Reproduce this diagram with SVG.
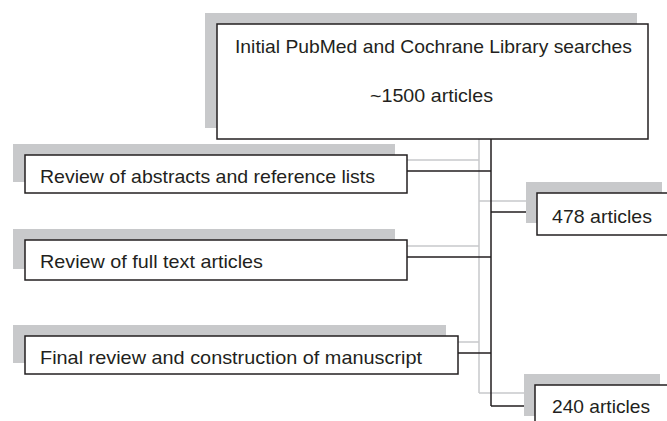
<svg xmlns="http://www.w3.org/2000/svg" width="667" height="421" viewBox="0 0 667 421">
<style>
.sh{fill:#c8c9cb;stroke:none}
.bx{fill:#fff;stroke:#231f20;stroke-width:1.5}
.t{font-family:"Liberation Sans",Arial,sans-serif;font-size:18.5px;fill:#231f20}
.dk{stroke:#231f20;stroke-width:1.5;fill:none}
.gr{stroke:#c8c9cb;stroke-width:1.5;fill:none}
</style>
<rect width="667" height="421" fill="#fff"/>
<g id="connectors">
<path class="gr" d="M479 128V393M395 160H479M395 246H479M446 342H479M479 201H526M479 393H524"/>
<path class="dk" d="M491 139V406M407 171H491M407 257H491M458 353H491M491 212H537M491 406H535"/>
</g>
<g id="n-initial">
<rect class="sh" x="205" y="13" width="432" height="115"/>
<rect class="bx" x="217" y="24" width="431" height="115"/>
<text class="t" x="235" y="53" textLength="397" lengthAdjust="spacingAndGlyphs">Initial PubMed and Cochrane Library searches</text>
<text class="t" x="370" y="102" textLength="123" lengthAdjust="spacingAndGlyphs">~1500 articles</text>
</g>
<g id="n-abstracts">
<rect class="sh" x="13" y="144" width="382" height="38"/>
<rect class="bx" x="25" y="155" width="382" height="38"/>
<text class="t" x="40" y="183" textLength="335" lengthAdjust="spacingAndGlyphs">Review of abstracts and reference lists</text>
</g>
<g id="n-fulltext">
<rect class="sh" x="13" y="229" width="382" height="40"/>
<rect class="bx" x="25" y="240" width="382" height="40"/>
<text class="t" x="40" y="268" textLength="223" lengthAdjust="spacingAndGlyphs">Review of full text articles</text>
</g>
<g id="n-final">
<rect class="sh" x="13" y="325" width="433" height="38"/>
<rect class="bx" x="25" y="336" width="433" height="38"/>
<text class="t" x="40" y="364" textLength="382" lengthAdjust="spacingAndGlyphs">Final review and construction of manuscript</text>
</g>
<g id="n-478">
<rect class="sh" x="526" y="182" width="136" height="41"/>
<rect class="bx" x="537" y="193" width="136" height="42"/>
<text class="t" x="552" y="223" textLength="100" lengthAdjust="spacingAndGlyphs">478 articles</text>
</g>
<g id="n-240">
<rect class="sh" x="524" y="374" width="136" height="42"/>
<rect class="bx" x="535" y="385" width="136" height="42"/>
<text class="t" x="552" y="413" textLength="98" lengthAdjust="spacingAndGlyphs">240 articles</text>
</g>
</svg>
